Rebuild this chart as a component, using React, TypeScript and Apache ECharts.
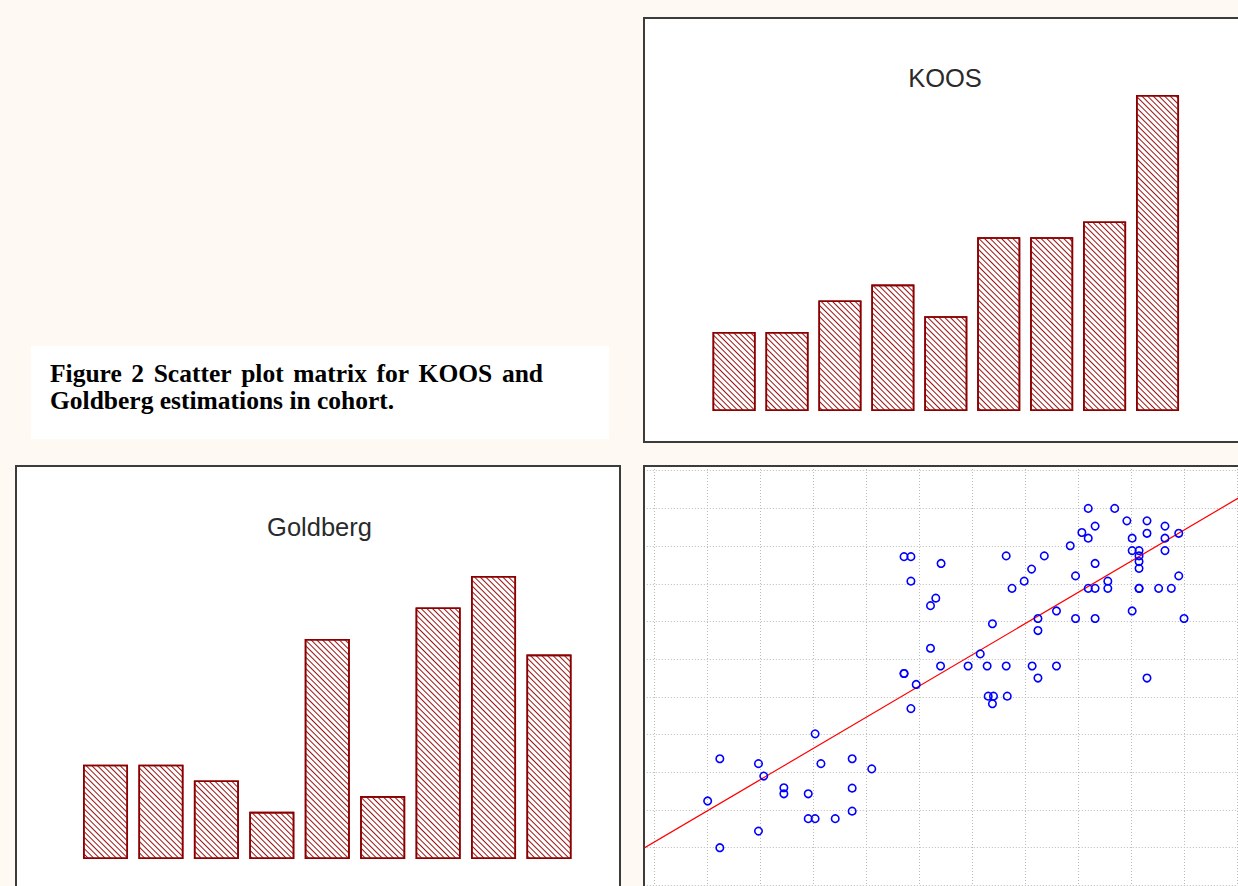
import React, { useEffect, useRef } from "react";
import * as echarts from "echarts";

// ---------- data ----------
const koosBinLabels = ["10-20", "20-30", "30-40", "40-50", "50-60", "60-70", "70-80", "80-90", "90-100"];
const koosCounts = [5, 5, 7, 8, 6, 11, 11, 12, 20];

const goldbergBinLabels = ["10-20", "20-30", "30-40", "40-50", "50-60", "60-70", "70-80", "80-90", "90-100"];
const goldbergCounts = [6, 6, 5, 3, 14, 4, 16, 18, 13];

// paired observations (x = KOOS, y = Goldberg)
const koosScores = [
  12.3, 19.6, 20.6, 31.4, 37.3, 41.0, 10.0, 24.4, 24.4, 29.0,
  37.3, 29.0, 30.3, 34.1, 37.3, 19.6, 12.3, 30.3, 47.1, 49.4,
  48.4, 47.1, 48.4, 54.1, 48.4, 53.1, 52.1, 52.1, 54.0, 81.9,
  86.9, 89.2, 93.0, 96.4, 83.2, 80.7, 81.9, 90.2, 93.0, 96.4,
  99.0, 78.5, 90.2, 91.5, 91.5, 91.5, 91.5, 96.4, 66.4, 73.6,
  83.2, 71.2, 69.8, 79.5, 99.0, 67.5, 81.9, 83.2, 85.6, 85.6,
  91.5, 95.2, 97.6, 75.9, 72.4, 72.4, 79.5, 83.2, 90.2, 100.0,
  63.8, 61.5, 59.2, 62.8, 66.4, 71.3, 75.9, 72.4, 93.0, 63.0,
  64.0, 63.8, 66.6, 47.1, 91.5,
];
const goldbergScores = [
  33.6, 32.3, 29.0, 32.3, 33.6, 30.9, 22.4, 25.9, 24.3, 24.3,
  25.8, 17.7, 17.7, 17.7, 19.7, 14.4, 10.0, 40.2, 56.2, 53.3,
  46.9, 87.2, 87.2, 85.4, 80.7, 76.2, 74.2, 62.9, 58.2, 100.0,
  100.0, 96.7, 96.7, 95.3, 95.3, 93.6, 92.1, 92.1, 93.4, 92.1,
  93.4, 90.1, 88.8, 88.8, 87.4, 85.9, 84.1, 88.8, 87.4, 87.4,
  85.4, 83.9, 80.7, 82.1, 82.1, 78.8, 78.8, 78.8, 78.8, 80.7,
  78.8, 78.8, 78.8, 72.8, 70.8, 67.6, 70.8, 70.8, 72.8, 70.8,
  69.4, 61.4, 58.2, 58.2, 58.2, 58.2, 58.2, 55.0, 55.0, 50.2,
  50.2, 48.2, 50.2, 56.2, 78.8,
];

// fitted line
const fitSlope = 0.827;
const fitIntercept = 11.56;
const fitXRange = [-10, 120];

const captionLine1Words = ["Figure", "2", "Scatter", "plot", "matrix", "for", "KOOS", "and"];
const captionLine2 = "Goldberg estimations in cohort.";
const koosTitle = "KOOS";
const goldbergTitle = "Goldberg";

const BG = "#fefaf3";
const BORDER = "#3c3c3c";
const BAR_RED = "#8b0000";
const CAPTION_FONT = 'bold 25.5px "Liberation Serif", "Times New Roman", serif';
const TITLE_FONT = '25.5px "Liberation Sans", Arial, sans-serif';

const hatch = {
  symbol: "rect",
  symbolSize: 1,
  dashArrayX: [1, 0],
  dashArrayY: [1, 2.3],
  rotation: Math.PI / 4,
  color: "#9a1414",
  backgroundColor: "#ffffff",
};

// justified first caption line (word positions from measured text widths)
function justifiedWords(words: string[], x0: number, width: number, y: number) {
  const ctx = document.createElement("canvas").getContext("2d")!;
  ctx.font = CAPTION_FONT;
  const widths = words.map((w) => ctx.measureText(w).width);
  const total = widths.reduce((a, b) => a + b, 0);
  const gap = (width - total) / (words.length - 1);
  let x = x0;
  return words.map((w, i) => {
    const el = {
      type: "text", z: 5, x, y,
      style: { text: w, fill: "#000", font: CAPTION_FONT, verticalAlign: "middle" },
    };
    x += widths[i] + gap;
    return el;
  });
}

export default function App() {
  const mainRef = useRef<HTMLDivElement>(null);
  const scatterRef = useRef<HTMLDivElement>(null);

  useEffect(() => {
    const main = echarts.init(mainRef.current!, null, { renderer: "svg" });
    const sc = echarts.init(scatterRef.current!, null, { renderer: "svg" });

    main.setOption({
      animation: false,
      backgroundColor: BG,
      graphic: [
        { type: "rect", z: 0, shape: { x: 644, y: 18, width: 700, height: 424 }, style: { fill: "#ffffff", stroke: BORDER, lineWidth: 2 } },
        { type: "rect", z: 0, shape: { x: 16, y: 466, width: 604, height: 500 }, style: { fill: "#ffffff", stroke: BORDER, lineWidth: 2 } },
        { type: "rect", z: 0, shape: { x: 644, y: 466, width: 700, height: 500 }, style: { fill: "#ffffff", stroke: BORDER, lineWidth: 2 } },
        { type: "rect", z: 0, shape: { x: 31, y: 346, width: 578, height: 93 }, style: { fill: "#ffffff" } },
        ...justifiedWords(captionLine1Words, 50, 493, 373),
        {
          type: "text", z: 5, x: 50, y: 400,
          style: { text: captionLine2, fill: "#000", font: CAPTION_FONT, verticalAlign: "middle" },
        },
        {
          type: "text", z: 5, x: 945, y: 78,
          style: { text: koosTitle, fill: "#2a2a2a", font: TITLE_FONT, align: "center", verticalAlign: "middle" },
        },
        {
          type: "text", z: 5, x: 319.5, y: 527,
          style: { text: goldbergTitle, fill: "#2a2a2a", font: TITLE_FONT, align: "center", verticalAlign: "middle" },
        },
      ],
      grid: [
        { left: 707.6, top: 95, width: 476.4, height: 316 },
        { left: 77.8, top: 576, width: 498.9, height: 283 },
      ],
      xAxis: [
        { type: "category", gridIndex: 0, data: koosBinLabels, show: false },
        { type: "category", gridIndex: 1, data: goldbergBinLabels, show: false },
      ],
      yAxis: [
        { type: "value", gridIndex: 0, min: 0, max: 20, show: false },
        { type: "value", gridIndex: 1, min: 0, max: 18, show: false },
      ],
      series: [
        {
          type: "bar", xAxisIndex: 0, yAxisIndex: 0, data: koosCounts, barWidth: 43, z: 3,
          itemStyle: { color: "#ffffff", borderColor: BAR_RED, borderWidth: 1.6, decal: hatch },
        },
        {
          type: "bar", xAxisIndex: 1, yAxisIndex: 1, data: goldbergCounts, barWidth: 45, z: 3,
          itemStyle: { color: "#ffffff", borderColor: BAR_RED, borderWidth: 1.6, decal: hatch },
        },
      ],
    });

    const pts = koosScores.map((x, i) => [x, goldbergScores[i]]);
    const fitLine = fitXRange.map((x) => [x, fitIntercept + fitSlope * x]);

    const axisCommon = {
      type: "value",
      min: -10,
      max: 120,
      interval: 10,
      axisLine: { show: false },
      axisTick: { show: false },
      axisLabel: { show: false },
      splitLine: { show: true, lineStyle: { color: "#bababa", type: [1, 2], width: 1 } },
    };

    sc.setOption({
      animation: false,
      backgroundColor: "#ffffff",
      grid: { left: 16.8, top: 16, width: 688.1, height: 490.1 },
      xAxis: axisCommon,
      yAxis: axisCommon,
      series: [
        {
          type: "line",
          data: fitLine,
          showSymbol: false,
          symbol: "none",
          lineStyle: { color: "#ff0000", width: 1.2 },
          z: 2,
        },
        {
          type: "scatter",
          data: pts,
          symbol: "circle",
          symbolSize: 7.5,
          itemStyle: { color: "rgba(0,0,0,0)", borderColor: "#0000ff", borderWidth: 1.6, opacity: 1 },
          z: 3,
        },
      ],
    });

    return () => {
      main.dispose();
      sc.dispose();
    };
  }, []);

  return (
    <div style={{ position: "absolute", left: 0, top: 0, width: 1238, height: 886, overflow: "hidden", background: BG }}>
      <div ref={mainRef} style={{ position: "absolute", left: 0, top: 0, width: 1238, height: 886 }} />
      <div style={{ position: "absolute", left: 645, top: 467, width: 593, height: 419, overflow: "hidden" }}>
        <div ref={scatterRef} style={{ position: "absolute", left: -60, top: -50, width: 760, height: 520 }} />
      </div>
    </div>
  );
}
